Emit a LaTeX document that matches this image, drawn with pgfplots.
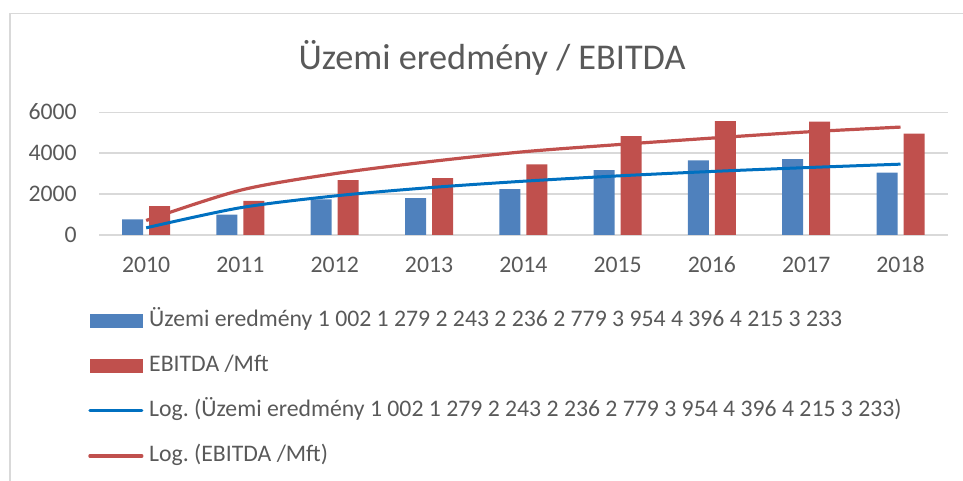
\documentclass[border=0pt]{standalone}
\usepackage{fontspec}
\setmainfont{Carlito}
\usepackage{pgfplots}
\pgfplotsset{compat=1.18}
\frenchspacing
\definecolor{barblue}{HTML}{4F81BD}
\definecolor{barred}{HTML}{C0504D}
\definecolor{trblue}{HTML}{0070C0}
\definecolor{trred}{HTML}{C0504D}
\definecolor{txt}{HTML}{595959}
\definecolor{gridc}{HTML}{D9D9D9}
\begin{document}
\begin{tikzpicture}
\useasboundingbox (0pt,0pt) rectangle (722.25pt,360.75pt);
\draw[gridc, line width=1.3pt] (7.5pt,0pt) -- (7.5pt,350.6pt) -- (722.25pt,350.6pt);
\node[anchor=base, font=\fontsize{27.2}{30}\selectfont, text=txt, inner sep=0pt] at (369pt,308.75pt) {Üzemi eredmény / EBITDA};
\begin{axis}[
  at={(74.25pt,184.5pt)}, anchor=south west,
  scale only axis, width=636.5pt, height=92pt,
  xmin=-0.5, xmax=8.5, ymin=0, ymax=6000,
  xtick={0,1,2,3,4,5,6,7,8},
  xticklabels={2010,2011,2012,2013,2014,2015,2016,2017,2018},
  ytick={0,2000,4000,6000},
  ymajorgrids, grid style={gridc, line width=1.1pt},
  axis line style={draw=none},
  major tick length=0pt,
  tick label style={font=\fontsize{17.8}{20}\selectfont, text=txt, inner sep=0pt, text height=11.3pt, text depth=0pt},
  xticklabel style={anchor=north, yshift=-16.5pt},
  yticklabel style={anchor=east, xshift=-16.5pt},
  /pgf/number format/assume math mode=true,
  /pgf/number format/1000 sep={},
  scaled y ticks=false,
  clip=false,
  legend cell align=left,
  legend style={at={(-0.01296,-0.6064)}, anchor=north west, draw=none, fill=none,
    font=\fontsize{17.8}{20}\selectfont, text=txt, inner sep=0pt,
    nodes={inner sep=0pt, text height=13pt, text depth=4pt},
    row sep=16.75pt, column sep=4.3pt},
]
\addplot[ybar, bar width=15.75pt, bar shift=-10.125pt, fill=barblue, draw=none,
  legend image code/.code={\fill[barblue] (0pt,-4.9pt) rectangle (39.75pt,4.9pt);}]
  coordinates {(0,766) (1,994) (2,1744) (3,1809) (4,2249) (5,3178) (6,3651) (7,3716) (8,3048)};
\addlegendentry{Üzemi eredmény 1 002 1 279 2 243 2 236 2 779 3 954 4 396 4 215 3 233}
\addplot[ybar, bar width=15.75pt, bar shift=10.125pt, fill=barred, draw=none,
  legend image code/.code={\fill[barred] (0pt,-4.9pt) rectangle (39.75pt,4.9pt);}]
  coordinates {(0,1418) (1,1663) (2,2690) (3,2787) (4,3456) (5,4841) (6,5574) (7,5542) (8,4955)};
\addlegendentry{EBITDA /Mft}
\addplot[draw=trblue, line width=2.25pt, smooth, no markers,
  legend image code/.code={\draw[trblue, line width=2.25pt, line cap=round] (0pt,0pt) -- (39pt,0pt);}]
  coordinates {(0,350) (1,1335) (2,1910) (3,2315) (4,2630) (5,2890) (6,3108) (7,3296) (8,3465)};
\addlegendentry{Log. (Üzemi eredmény 1 002 1 279 2 243 2 236 2 779 3 954 4 396 4 215 3 233)}
\addplot[draw=trred, line width=2.4pt, smooth, no markers,
  legend image code/.code={\draw[trred, line width=2.4pt, line cap=round] (0pt,0pt) -- (39pt,0pt);}]
  coordinates {(0,710) (1,2190) (2,3000) (3,3585) (4,4070) (5,4420) (6,4740) (7,5040) (8,5278)};
\addlegendentry{Log. (EBITDA /Mft)}
\end{axis}
\end{tikzpicture}
\end{document}
